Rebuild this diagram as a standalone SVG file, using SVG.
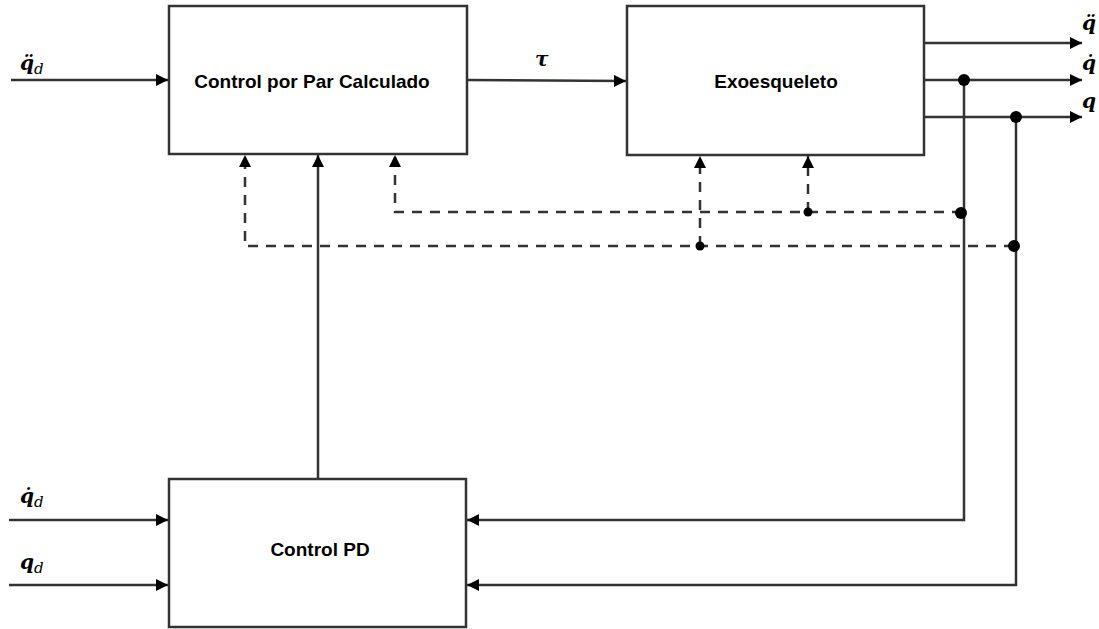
<svg xmlns="http://www.w3.org/2000/svg" width="1099" height="629" viewBox="0 0 1099 629">
<style>
.box{fill:#fff;stroke:#333;stroke-width:2.5}
.ln{fill:none;stroke:#333;stroke-width:2.5}
.dash{fill:none;stroke:#333;stroke-width:2.5;stroke-dasharray:10 8}
.lbl{font-family:"Liberation Sans",Arial,sans-serif;font-weight:bold;font-size:19px;fill:#000;text-anchor:middle}
.m{font-family:"DejaVu Serif","Liberation Serif",serif;font-style:italic;font-weight:bold;font-size:20px;fill:#000}
.sub{font-size:15px;font-weight:normal}
.dot{fill:#000}
</style>
<defs>
<marker id="ah" viewBox="0 0 10 10" refX="10" refY="5" markerWidth="12" markerHeight="12" markerUnits="userSpaceOnUse" orient="auto">
<path d="M0,0 L10,5 L0,10 z" fill="#000"/>
</marker>
</defs>
<g id="connectors">
<line class="ln" x1="11" y1="80" x2="168" y2="80" marker-end="url(#ah)"/>
<line class="ln" x1="467" y1="80" x2="626" y2="81" marker-end="url(#ah)"/>
<line class="ln" x1="924" y1="43" x2="1082" y2="43" marker-end="url(#ah)"/>
<line class="ln" x1="924" y1="80" x2="1082" y2="80" marker-end="url(#ah)"/>
<line class="ln" x1="924" y1="117" x2="1082" y2="117" marker-end="url(#ah)"/>
<polyline class="ln" points="964,80 964,520 467,520" marker-end="url(#ah)"/>
<polyline class="ln" points="1016,117 1016,585 467,585" marker-end="url(#ah)"/>
<line class="ln" x1="318" y1="479" x2="318" y2="155" marker-end="url(#ah)"/>
<line class="ln" x1="9" y1="520" x2="168" y2="520" marker-end="url(#ah)"/>
<line class="ln" x1="9" y1="585" x2="168" y2="585" marker-end="url(#ah)"/>
<polyline class="dash" points="962,212 395,212 395,155" marker-end="url(#ah)"/>
<polyline class="dash" points="1014,246 245,246 245,155" marker-end="url(#ah)"/>
<line class="dash" x1="700" y1="246" x2="700" y2="156" marker-end="url(#ah)"/>
<line class="dash" x1="808" y1="212" x2="808" y2="156" marker-end="url(#ah)"/>
<circle class="dot" cx="964" cy="80" r="6"/>
<circle class="dot" cx="1016" cy="117" r="6"/>
<circle class="dot" cx="961" cy="213" r="6"/>
<circle class="dot" cx="1014" cy="246" r="6"/>
<circle class="dot" cx="808" cy="212" r="4.5"/>
<circle class="dot" cx="700" cy="246" r="4.5"/>
</g>
<g id="control-par">
<rect class="box" x="169" y="6" width="298" height="148"/>
<text class="lbl" x="312" y="88">Control por Par Calculado</text>
</g>
<g id="exoesqueleto">
<rect class="box" x="627" y="6" width="297" height="149"/>
<text class="lbl" x="776" y="88">Exoesqueleto</text>
</g>
<g id="control-pd">
<rect class="box" x="169" y="479" width="297" height="148"/>
<text class="lbl" x="320" y="556">Control PD</text>
</g>
<g id="labels">
<text class="m" x="20" y="70">q̈<tspan class="sub" dy="4">d</tspan></text>
<text class="m" x="535" y="66">τ</text>
<text class="m" x="1082" y="30">q̈</text>
<text class="m" x="1082" y="70">q̇</text>
<text class="m" x="1082" y="108">q</text>
<text class="m" x="20" y="503">q̇<tspan class="sub" dy="4">d</tspan></text>
<text class="m" x="20" y="569">q<tspan class="sub" dy="4">d</tspan></text>
</g>
</svg>
